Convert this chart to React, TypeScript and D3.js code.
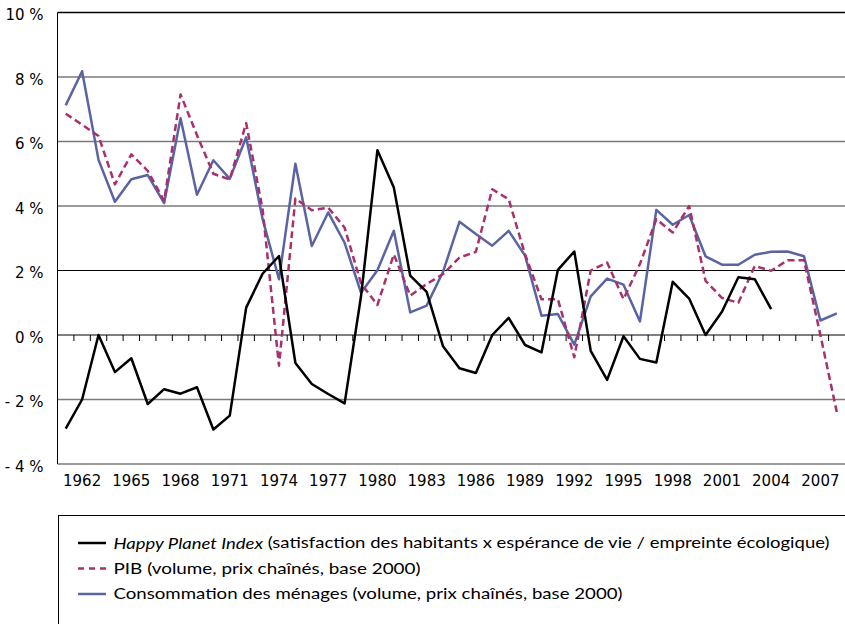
import React from "react";
import * as d3 from "d3";

const years: number[] = d3.range(1961, 2009);
const hpi: (number | null)[] = [
  -2.9, -2.0, 0.0, -1.15, -0.72, -2.14, -1.68, -1.82, -1.62, -2.93,
  -2.5, 0.85, 1.9, 2.45, -0.87, -1.52, -1.83, -2.12, 1.2, 5.73,
  4.57, 1.84, 1.34, -0.35, -1.03, -1.18, 0.0, 0.53, -0.31, -0.54,
  2.02, 2.59, -0.49, -1.39, -0.04, -0.74, -0.85, 1.65, 1.13, 0.0,
  0.72, 1.79, 1.73, 0.8, null, null, null, null,
];
const pib: number[] = [
  6.86, 6.52, 6.17, 4.67, 5.6, 5.09, 4.16, 7.46, 6.2, 5.0,
  4.82, 6.57, 3.9, -0.95, 4.23, 3.87, 3.95, 3.33, 1.6, 0.93,
  2.5, 1.22, 1.58, 1.89, 2.4, 2.58, 4.52, 4.21, 2.5, 1.11,
  1.11, -0.69, 2.0, 2.25, 1.11, 2.2, 3.59, 3.18, 4.0, 1.68,
  1.15, 1.0, 2.14, 1.99, 2.32, 2.32, 0.0, -2.39,
];
const conso: number[] = [
  7.12, 8.18, 5.43, 4.13, 4.83, 4.96, 4.09, 6.72, 4.35, 5.42,
  4.84, 6.13, 3.6, 1.73, 5.31, 2.76, 3.8, 2.86, 1.31, 2.01,
  3.23, 0.7, 0.91, 1.96, 3.51, 3.13, 2.77, 3.23, 2.46, 0.6,
  0.65, -0.3, 1.2, 1.75, 1.56, 0.42, 3.88, 3.42, 3.72, 2.44,
  2.18, 2.18, 2.49, 2.58, 2.59, 2.44, 0.45, 0.67,
];
const yTicks: number[] = [-4, -2, 0, 2, 4, 6, 8, 10];
const xLabelYears: number[] = years.filter((y) => (y - 1962) % 3 === 0);

const legendItems = [
  { key: "hpi", italic: "Happy Planet Index", rest: " (satisfaction des habitants x espérance de vie / empreinte écologique)", width: 716 },
  { key: "pib", italic: "", rest: "PIB (volume, prix chaînés, base 2000)", width: 307 },
  { key: "conso", italic: "", rest: "Consommation des ménages (volume, prix chaînés, base 2000)", width: 509 },
];

const COLORS: Record<string, string> = { hpi: "#000000", pib: "#a8306c", conso: "#5a64a2" };

export default function App() {
  const W = 845, H = 624;
  const left = 57.5, right = 845, top = 12.5, bottom = 464;
  const x = d3.scaleBand<number>().domain(years).range([left, right]).padding(0);
  const bw = x.bandwidth();
  const cx = (yr: number) => (x(yr) as number) + bw / 2;
  const y = d3.scaleLinear().domain([-4, 10]).range([bottom, top]);

  const line = d3
    .line<[number, number | null]>()
    .defined((d) => d[1] !== null)
    .x((d) => cx(d[0]))
    .y((d) => y(d[1] as number));

  const mk = (arr: (number | null)[]) => years.map((yr, i) => [yr, arr[i]] as [number, number | null]);

  const gridStyle = (v: number) =>
    v === 10 ? { stroke: "#000", w: 1.5 } : v === 2 || v === 0 ? { stroke: "#000", w: 1 } : { stroke: "#7a7a7a", w: 1.5 };

  const axisFont = "'DejaVu Sans', Verdana, sans-serif";
  const legendFont = "Lato, 'Open Sans', sans-serif";

  return (
    <svg width={W} height={H} style={{ position: "absolute", left: 0, top: 0, background: "#fff" }}>
      <rect x={0} y={0} width={W} height={H} fill="#fff" />
      {yTicks.map((v) => {
        const s = gridStyle(v);
        return <line key={v} x1={left} x2={right} y1={y(v)} y2={y(v)} stroke={s.stroke} strokeWidth={s.w} />;
      })}
      <line x1={left} x2={left} y1={top} y2={bottom} stroke="#000" strokeWidth={1} />
      {years.slice(1).map((yr) => (
        <line key={yr} x1={x(yr) as number} x2={x(yr) as number} y1={y(0)} y2={y(0) + 6} stroke="#000" strokeWidth={1} />
      ))}
      {yTicks.map((v) => (
        <text key={v} x={43.5} y={y(v) + 2.5} textAnchor="end" dominantBaseline="central" fontFamily={axisFont} fontSize={15} fill="#000">
          {v < 0 ? `- ${-v} %` : `${v} %`}
        </text>
      ))}
      {xLabelYears.map((yr) => (
        <text key={yr} x={cx(yr)} y={481} textAnchor="middle" dominantBaseline="central" fontFamily={axisFont} fontSize={15} fill="#000">
          {yr}
        </text>
      ))}
      <path d={line(mk(conso)) || ""} fill="none" stroke={COLORS.conso} strokeWidth={2.5} strokeLinejoin="round" />
      <path d={line(mk(pib)) || ""} fill="none" stroke={COLORS.pib} strokeWidth={2.5} strokeDasharray="7,4" strokeLinejoin="round" />
      <path d={line(mk(hpi)) || ""} fill="none" stroke={COLORS.hpi} strokeWidth={2.5} strokeLinejoin="round" />

      <rect x={58.5} y={515.5} width={900} height={200} fill="none" stroke="#000" strokeWidth={1} />
      {legendItems.map((it, i) => {
        const ly = 541.5 + i * 25.5;
        return (
          <g key={it.key}>
            <line x1={78} x2={106} y1={ly + 1.5} y2={ly + 1.5} stroke={COLORS[it.key]} strokeWidth={2.5}
              strokeDasharray={it.key === "pib" ? "6,5" : undefined} />
            <text x={113.5} y={ly} dominantBaseline="central" fontFamily={legendFont} fontSize={16} fill="#000"
              textLength={it.width} lengthAdjust="spacingAndGlyphs">
              {it.italic ? <tspan fontStyle="italic">{it.italic}</tspan> : null}
              {it.rest}
            </text>
          </g>
        );
      })}
    </svg>
  );
}
